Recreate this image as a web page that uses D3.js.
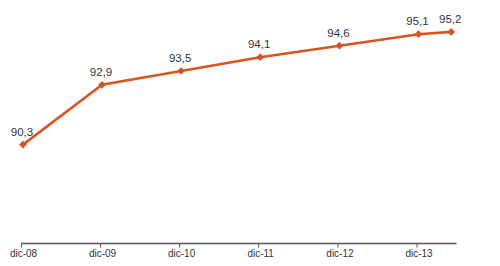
<!DOCTYPE html>
<html><head><meta charset="utf-8">
<script src="https://cdn.jsdelivr.net/npm/d3@7"></script>
<style>html,body{margin:0;padding:0;background:#fff;} svg{display:block;}</style>
</head><body>
<script>
const dates = ["2008-12","2009-12","2010-12","2011-12","2012-12","2013-12","2014-05"];
const values = [90.3, 92.9, 93.5, 94.1, 94.6, 95.1, 95.2];
const tickDates = ["2008-12","2009-12","2010-12","2011-12","2012-12","2013-12"];
const tickLabels = ["dic-08","dic-09","dic-10","dic-11","dic-12","dic-13"];

const W = 500, H = 266;
const parse = d3.timeParse("%Y-%m");
const data = dates.map((d,i)=>({date: parse(d), value: values[i]}));

const svg = d3.select("body").append("svg").attr("width", W).attr("height", H);

const x = d3.scaleTime().domain([parse("2008-12"), parse("2013-12")]).range([23, 418.5]);
const y = d3.scaleLinear().domain([86, 96]).range([243.5, 13.5]);

const loc = d3.formatLocale({decimal: ",", thousands: ".", grouping: [3], currency: ["", "€"]});
const fmt = loc.format(".1f");

// axis
const axis = d3.axisBottom(x)
  .tickValues(tickDates.map(parse))
  .tickFormat((d,i)=>tickLabels[i])
  .tickSize(4).tickSizeOuter(0).tickPadding(3);
const gAx = svg.append("g").attr("transform", "translate(0,243.5)").call(axis);
gAx.select(".domain").attr("d", `M${x(parse("2008-12"))-2},0H456.5`).attr("stroke", "#555").attr("stroke-width", 1.3);
gAx.selectAll(".tick line").attr("stroke", "#555").attr("transform", "translate(-2,0)");
gAx.selectAll(".tick text").attr("fill", "#333").attr("dy", "0.6em")
  .style("font-family", "Liberation Sans, Arial, sans-serif").style("font-size", "10px");

// line
svg.append("path").datum(data)
  .attr("fill", "none").attr("stroke", "#d9541f").attr("stroke-width", 2.6)
  .attr("d", d3.line().x(d=>x(d.date)).y(d=>y(d.value)));

// markers (rotated squares)
svg.selectAll(".m").data(data).enter().append("path")
  .attr("d", d3.symbol().type(d3.symbolSquare).size(30))
  .attr("transform", d=>`translate(${x(d.date)},${y(d.value)}) rotate(45)`)
  .attr("fill", "#d9541f");

// labels
svg.selectAll(".lbl").data(data).enter().append("text")
  .attr("x", d=>x(d.date)-1).attr("y", d=>y(d.value)-9)
  .attr("text-anchor", "middle")
  .attr("fill", "#333")
  .style("font-family", "Liberation Sans, Arial, sans-serif").style("font-size", "11.5px")
  .text(d=>fmt(d.value));
</script>
</body></html>
